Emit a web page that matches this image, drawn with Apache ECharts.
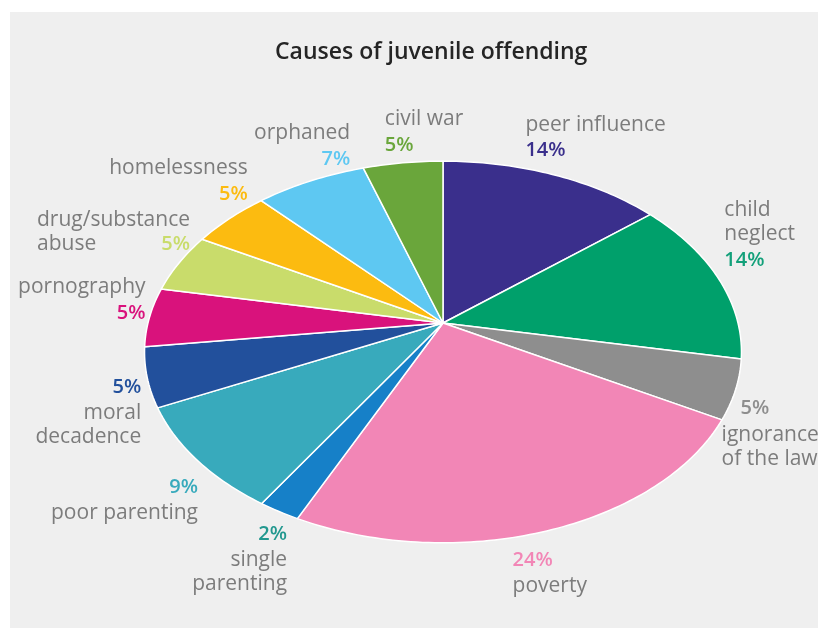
<!DOCTYPE html>
<html>
<head>
<meta charset="utf-8">
<script src="https://cdn.jsdelivr.net/npm/echarts@6/dist/echarts.min.js"></script>
<style>
  html, body { margin: 0; padding: 0; background: #ffffff; }
  #panel { position: absolute; left: 10px; top: 12px; width: 808px; height: 616px; background: #efefef; }
</style>
</head>
<body>
<div id="panel"></div>
<script>
// Causes of juvenile offending, clockwise from twelve o'clock
const categories = [
  'peer influence', 'child\nneglect', 'ignorance\nof the law', 'poverty',
  'single\nparenting', 'poor parenting', 'moral\ndecadence', 'pornography',
  'drug/substance\nabuse', 'homelessness', 'orphaned', 'civil war'
];
const shares = [14, 14, 5, 24, 2, 9, 5, 5, 5, 5, 7, 5];

const sliceColors = [
  '#3a2f8c', '#00a06b', '#8e8e8e', '#f286b6', '#1680c8', '#38aabc',
  '#22509c', '#d9127c', '#c9dc6b', '#fcbb10', '#5ec8f2', '#6aa63b'
];
const percentColors = [
  '#3a2f8c', '#13a07a', '#8e8e8e', '#f286b6', '#22988f', '#38aabc',
  '#22509c', '#d9127c', '#c9dc6b', '#fcbb10', '#5ec8f2', '#6aa63b'
];

// Label placement relative to the rim point at each slice's mid angle
const labelLayout = [
  { align: 'left',  dx: -28, dy: -10 },
  { align: 'left',  dx: 6,   dy: -4 },
  { align: 'left',  dx: -14, dy: 5, pctPad: 19 },
  { align: 'left',  dx: -37, dy: 16 },
  { align: 'right', dx: 8,   dy: 9 },
  { align: 'right', dx: 1,   dy: 13 },
  { align: 'right', dx: -6,  dy: -4 },
  { align: 'right', dx: -4,  dy: 10 },
  { align: 'right', dx: 11,  dy: -7, inline: true, nameAlign: 'left' },
  { align: 'right', dx: 18,  dy: -10 },
  { align: 'right', dx: 40,  dy: -8 },
  { align: 'left',  dx: -18, dy: -4 }
];

// Tilted disc seen in perspective
const PIE = { cx: 433, cy: 311, r: 295, tilt: 50.8, view: 1505 };
const FONT = '"Open Sans", "Noto Sans", sans-serif';

function project(phi, r) {
  const t = PIE.tilt * Math.PI / 180;
  const depth = r * Math.cos(phi) * Math.sin(t);
  const s = PIE.view / (PIE.view + depth);
  return [PIE.cx + r * Math.sin(phi) * s, PIE.cy - r * Math.cos(phi) * Math.cos(t) * s];
}

const total = shares.reduce((a, b) => a + b, 0);
const starts = [];
shares.reduce((acc, v, i) => { starts[i] = acc; return acc + v; }, 0);

function renderItem(params, api) {
  const i = params.dataIndex;
  const v = api.value(0);
  const a0 = starts[i] / total * Math.PI * 2;
  const a1 = a0 + v / total * Math.PI * 2;
  const steps = Math.max(4, Math.ceil((a1 - a0) / (Math.PI / 180)));
  const pts = [[PIE.cx, PIE.cy]];
  for (let k = 0; k <= steps; k++) {
    pts.push(project(a0 + (a1 - a0) * k / steps, PIE.r));
  }

  const mid = (a0 + a1) / 2;
  const rim = project(mid, PIE.r);
  const upper = Math.cos(mid) > 0;
  const L = labelLayout[i];
  const pct = v + '%';
  let text;
  if (L.inline) {
    const lines = categories[i].split('\n');
    text = lines.slice(0, -1).map(s => '{n|' + s + '}').join('\n') +
      '\n{n|' + lines[lines.length - 1] + '}{q|' + pct + '}';
  } else if (upper) {
    text = '{n|' + categories[i] + '}\n{p|' + pct + '}';
  } else {
    text = '{p|' + pct + '}\n{n|' + categories[i] + '}';
  }

  return {
    type: 'group',
    children: [
      {
        type: 'polygon',
        shape: { points: pts },
        style: { fill: sliceColors[i], stroke: '#ffffff', lineWidth: 1.5, lineJoin: 'round' }
      },
      {
        type: 'text',
        x: rim[0] + L.dx,
        y: rim[1] + L.dy,
        style: {
          text: text,
          align: L.align,
          verticalAlign: upper ? 'bottom' : 'top',
          rich: {
            n: { fontFamily: FONT, fontSize: 21, fill: '#7c7c7c', lineHeight: 24, align: L.nameAlign || L.align },
            p: { fontFamily: FONT, fontSize: 20, fontWeight: 600, fill: percentColors[i], lineHeight: 28,
                 align: L.align, padding: [0, 0, 0, L.pctPad || 0] },
            q: { fontFamily: FONT, fontSize: 20, fontWeight: 600, fill: percentColors[i], lineHeight: 24, align: 'right' }
          }
        }
      }
    ]
  };
}

const chart = echarts.init(document.getElementById('panel'), null, { renderer: 'canvas' });
chart.setOption({
  animation: false,
  backgroundColor: 'transparent',
  title: {
    text: 'Causes of juvenile offending',
    left: 260,
    top: 24,
    textStyle: { fontFamily: FONT, fontSize: 23, fontWeight: 600, color: '#252525' }
  },
  series: [{
    type: 'custom',
    coordinateSystem: 'none',
    renderItem: renderItem,
    data: shares.map((v, i) => ({ name: categories[i], value: [v] }))
  }]
});
</script>
</body>
</html>
